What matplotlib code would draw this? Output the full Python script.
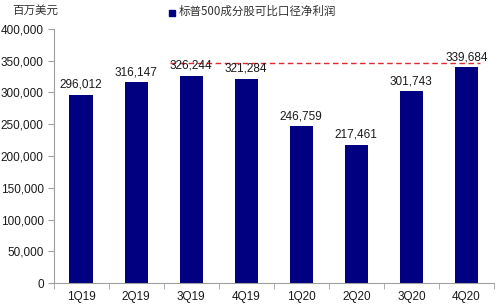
import matplotlib
matplotlib.use("Agg")
import matplotlib.pyplot as plt

categories = ["1Q19", "2Q19", "3Q19", "4Q19", "1Q20", "2Q20", "3Q20", "4Q20"]
values = [296012, 316147, 326244, 321284, 246759, 217461, 301743, 339684]
ref_level = 346000
y_ticks = [0, 50000, 100000, 150000, 200000, 250000, 300000, 350000, 400000]
unit_label = "百万美元"
series_name = "标普500成分股可比口径净利润"

plt.rcParams['font.family'] = ['Liberation Sans', 'Noto Sans CJK SC', 'DejaVu Sans']

fig = plt.figure(figsize=(5, 3.05), dpi=100)
ax = fig.add_axes([0.107, 0.072, 0.881, 0.833])

navy = "#000080"
x = list(range(len(categories)))
ax.bar(x, values, width=0.42, color=navy, zorder=2)

for xi, v in zip(x, values):
    ax.annotate(f"{v:,}", (xi, v), xytext=(0, 3), textcoords="offset points",
                ha="center", va="bottom", fontsize=8.5, color="#1a1a1a", zorder=4)

ax.plot([1.62, 7.25], [ref_level, ref_level], linestyle=(0, (4, 2.5)),
        color="#e0282e", linewidth=1.0, zorder=3)

ax.set_xlim(-0.5, len(categories) - 0.5)
ax.set_ylim(0, 400000)
ax.set_yticks(y_ticks)
ax.set_yticklabels([f"{t:,}" for t in y_ticks], fontsize=8.5, color="#1a1a1a")
ax.set_xticks(x)
ax.set_xticklabels(categories, fontsize=8.5, color="#1a1a1a")
ax.set_xticks([i - 0.5 for i in range(len(categories) + 1)], minor=True)
ax.tick_params(axis="x", which="major", length=0, pad=6)
ax.tick_params(axis="x", which="minor", length=4, color="#a0a0a0", direction="out")
ax.tick_params(axis="y", length=4, color="#a0a0a0", direction="out", pad=3)

for s in ["top", "right"]:
    ax.spines[s].set_visible(False)
for s in ["left", "bottom"]:
    ax.spines[s].set_color("#a0a0a0")
    ax.spines[s].set_linewidth(0.8)

fig.text(0.024, 0.967, unit_label, fontsize=8.3, color="#333333",
         family=['Noto Sans CJK SC', 'DejaVu Sans'], va="center", ha="left")

fig.patches.append(plt.Rectangle((0.338, 0.948), 0.012, 0.02, transform=fig.transFigure,
                                 color=navy, figure=fig))
fig.text(0.358, 0.962, series_name, fontsize=8.3, color="#333333",
         family=['Noto Sans CJK SC', 'DejaVu Sans'], va="center", ha="left")

fig.savefig("out.png", dpi=100)
